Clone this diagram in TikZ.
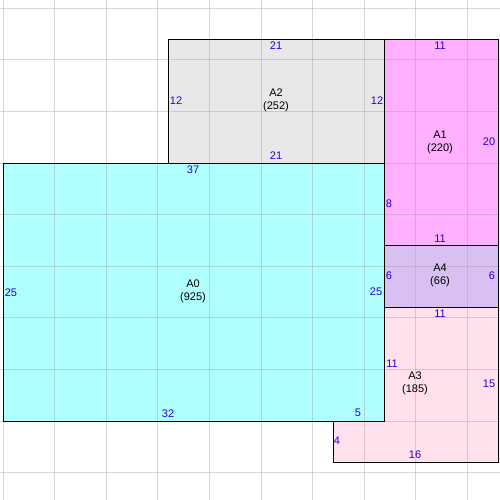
\documentclass[tikz,border=0pt]{standalone}
\usepackage{fontspec}
\setmainfont{Liberation Sans}
\begin{document}
\begin{tikzpicture}[x=1pt,y=-1pt,
  lenlbl/.style={text=blue!85!red, font=\fontsize{11}{13}\selectfont, inner sep=0pt},
  namelbl/.style={text=black, font=\fontsize{11}{13}\selectfont, inner sep=0pt, align=center},
  region/.style={draw=black, line width=1pt, line join=miter},
  gridline/.style={draw=gray!75, opacity=0.4, line width=1pt}]
\useasboundingbox (0,0) rectangle (500,500);
\fill[white] (0,0) rectangle (500,500);
\begin{scope}[shift={(3pt,-163pt)}, x=10.32pt, y=-10.32pt]
  % fills
  \fill[fill={rgb,255:red,176;green,255;blue,255}] (0,0) rectangle (37,25);
  \fill[fill={rgb,255:red,232;green,232;blue,232}] (16,-12) rectangle (37,0);
  \fill[fill={rgb,255:red,255;green,176;blue,255}] (37,-12) rectangle (48,8);
  \fill[fill={rgb,255:red,216;green,192;blue,242}] (37,8) rectangle (48,14);
  \fill[fill={rgb,255:red,255;green,224;blue,236}] (37,14) -- (48,14) -- (48,29) -- (32,29) -- (32,25) -- (37,25) -- cycle;
  % grid
  \foreach \gx in {0,5,...,45} \draw[gridline] (\gx,-16) -- (\gx,33);
  \foreach \gy in {-15,-10,...,30} \draw[gridline] (-1,\gy) -- (49,\gy);
  % borders
  \draw[region] (0,0) rectangle (37,25);
  \draw[region] (16,-12) rectangle (37,0);
  \draw[region] (37,-12) rectangle (48,8);
  \draw[region] (37,8) rectangle (48,14);
  \draw[region] (37,14) -- (48,14) -- (48,29) -- (32,29) -- (32,25) -- (37,25) -- cycle;
\end{scope}
% A2
\node[namelbl] (nA2) at (276,100.5) {A2\\(252)};
\node[lenlbl] (a2t) at (276,46) {21};
\node[lenlbl] (a2b) at (276,156) {21};
\node[lenlbl] (a2l) at (176,101) {12};
\node[lenlbl] (a2r) at (377,101) {12};
% A1
\node[namelbl] (nA1) at (440,142) {A1\\(220)};
\node[lenlbl] (a1t) at (440,46) {11};
\node[lenlbl] (a1r) at (489,142) {20};
\node[lenlbl] (a1l) at (389,204) {8};
\node[lenlbl] (a1b) at (440,239) {11};
% A0
\node[namelbl] (nA0) at (193,291.5) {A0\\(925)};
\node[lenlbl] (a0t) at (193,170) {37};
\node[lenlbl] (a0l) at (11,292.5) {25};
\node[lenlbl] (a0r) at (376,292) {25};
\node[lenlbl] (a0b) at (168,413.5) {32};
% A4
\node[namelbl] (nA4) at (440,275.5) {A4\\(66)};
\node[lenlbl] (a4l) at (389,276) {6};
\node[lenlbl] (a4r) at (492,276) {6};
% A3
\node[namelbl] (nA3) at (415,383) {A3\\(185)};
\node[lenlbl] (a3t) at (440,314) {11};
\node[lenlbl] (a3l) at (392,364) {11};
\node[lenlbl] (a3r) at (489,384) {15};
\node[lenlbl] (a3b) at (415,455) {16};
\node[lenlbl] (a3s) at (337,441) {4};
\node[lenlbl] (a3n) at (358,413) {5};
\end{tikzpicture}
\end{document}
